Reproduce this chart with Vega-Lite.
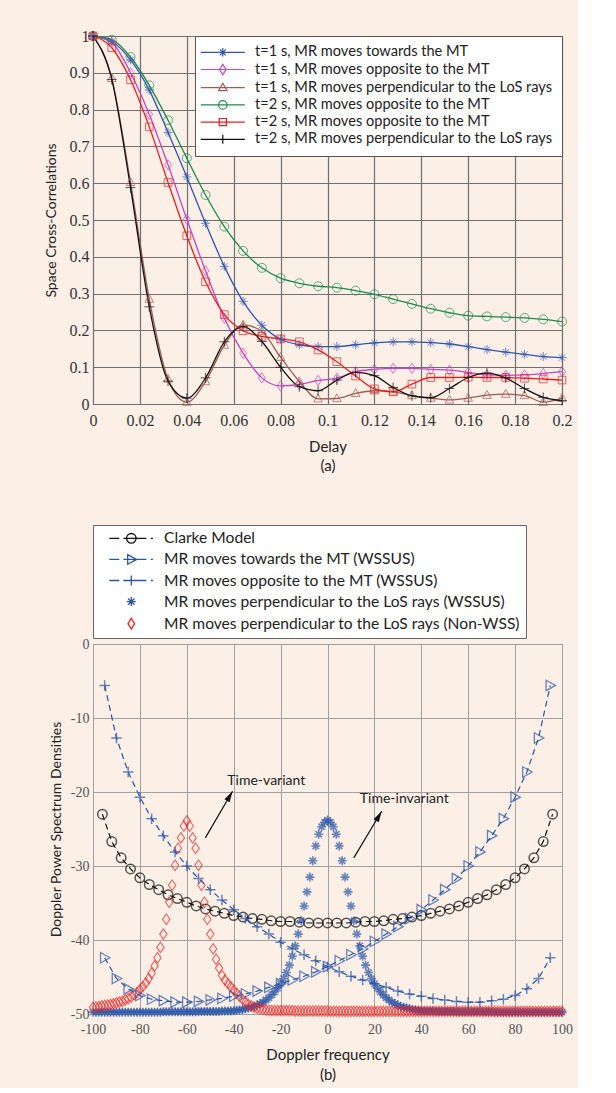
{
  "$schema": "https://vega.github.io/schema/vega-lite/v6.json",
  "background": "#fbefe6",
  "padding": {"left": 43, "top": 27, "right": 5, "bottom": 5},
  "config": {
    "font": "Lato",
    "view": {"stroke": "#444444", "strokeWidth": 1},
    "axis": {"grid": true, "ticks": false, "domain": false, "labelFont": "Liberation Serif", "titleFont": "Lato", "titleFontWeight": "normal", "titleColor": "#222222", "minExtent": 0, "labelFlush": false, "labelOverlap": false}
  },
  "datasets": {
    "top": [
      {"d":0,"A":1,"B":1,"C":1,"D":1,"E":1,"F":1},
      {"d":0.008,"A":0.985,"B":0.982,"C":0.885,"D":0.99,"E":0.968,"F":0.882},
      {"d":0.016,"A":0.935,"B":0.9,"C":0.602,"D":0.943,"E":0.881,"F":0.588},
      {"d":0.024,"A":0.853,"B":0.787,"C":0.285,"D":0.866,"E":0.753,"F":0.264},
      {"d":0.032,"A":0.738,"B":0.65,"C":0.068,"D":0.771,"E":0.602,"F":0.062},
      {"d":0.04,"A":0.617,"B":0.502,"C":0.005,"D":0.668,"E":0.457,"F":0.016},
      {"d":0.048,"A":0.491,"B":0.362,"C":0.061,"D":0.568,"E":0.332,"F":0.071},
      {"d":0.056,"A":0.374,"B":0.233,"C":0.16,"D":0.482,"E":0.243,"F":0.169},
      {"d":0.064,"A":0.279,"B":0.138,"C":0.215,"D":0.416,"E":0.199,"F":0.21},
      {"d":0.072,"A":0.214,"B":0.071,"C":0.197,"D":0.37,"E":0.184,"F":0.17},
      {"d":0.08,"A":0.176,"B":0.049,"C":0.127,"D":0.342,"E":0.177,"F":0.1},
      {"d":0.088,"A":0.161,"B":0.053,"C":0.061,"D":0.328,"E":0.169,"F":0.047},
      {"d":0.096,"A":0.156,"B":0.064,"C":0.014,"D":0.32,"E":0.147,"F":0.036},
      {"d":0.104,"A":0.156,"B":0.07,"C":0.015,"D":0.316,"E":0.115,"F":0.065},
      {"d":0.112,"A":0.161,"B":0.088,"C":0.029,"D":0.308,"E":0.076,"F":0.086},
      {"d":0.12,"A":0.166,"B":0.094,"C":0.036,"D":0.298,"E":0.041,"F":0.077},
      {"d":0.128,"A":0.169,"B":0.097,"C":0.033,"D":0.285,"E":0.033,"F":0.045},
      {"d":0.136,"A":0.169,"B":0.097,"C":0.023,"D":0.272,"E":0.054,"F":0.022},
      {"d":0.144,"A":0.167,"B":0.094,"C":0.016,"D":0.259,"E":0.072,"F":0.017},
      {"d":0.152,"A":0.163,"B":0.092,"C":0.011,"D":0.248,"E":0.072,"F":0.042},
      {"d":0.16,"A":0.156,"B":0.086,"C":0.016,"D":0.24,"E":0.073,"F":0.072},
      {"d":0.168,"A":0.148,"B":0.079,"C":0.024,"D":0.238,"E":0.072,"F":0.084},
      {"d":0.176,"A":0.141,"B":0.078,"C":0.027,"D":0.236,"E":0.072,"F":0.071},
      {"d":0.184,"A":0.135,"B":0.079,"C":0.023,"D":0.234,"E":0.07,"F":0.042},
      {"d":0.192,"A":0.129,"B":0.083,"C":0.005,"D":0.23,"E":0.068,"F":0.018},
      {"d":0.2,"A":0.126,"B":0.088,"C":0.016,"D":0.224,"E":0.065,"F":0.009}
    ],
    "clarke": [
      {"f":-96,"v":-23.0},{"f":-92,"v":-26.7},{"f":-88,"v":-28.9},{"f":-84,"v":-30.4},{"f":-80,"v":-31.6},
      {"f":-76,"v":-32.5},{"f":-72,"v":-33.2},{"f":-68,"v":-33.9},{"f":-64,"v":-34.4},{"f":-60,"v":-34.9},
      {"f":-56,"v":-35.4},{"f":-52,"v":-35.8},{"f":-48,"v":-36.1},{"f":-44,"v":-36.4},{"f":-40,"v":-36.7},
      {"f":-36,"v":-36.9},{"f":-32,"v":-37.1},{"f":-28,"v":-37.2},{"f":-24,"v":-37.4},{"f":-20,"v":-37.5},
      {"f":-16,"v":-37.5},{"f":-12,"v":-37.6},{"f":-8,"v":-37.7},{"f":-4,"v":-37.7},{"f":0,"v":-37.7},
      {"f":4,"v":-37.7},{"f":8,"v":-37.7},{"f":12,"v":-37.6},{"f":16,"v":-37.5},{"f":20,"v":-37.5},
      {"f":24,"v":-37.4},{"f":28,"v":-37.2},{"f":32,"v":-37.1},{"f":36,"v":-36.9},{"f":40,"v":-36.7},
      {"f":44,"v":-36.4},{"f":48,"v":-36.1},{"f":52,"v":-35.8},{"f":56,"v":-35.4},{"f":60,"v":-34.9},
      {"f":64,"v":-34.4},{"f":68,"v":-33.9},{"f":72,"v":-33.2},{"f":76,"v":-32.5},{"f":80,"v":-31.6},
      {"f":84,"v":-30.4},{"f":88,"v":-28.9},{"f":92,"v":-26.7},{"f":96,"v":-23.0}
    ],
    "towards": [
      {"f":-95,"v":-42.4},{"f":-90,"v":-45.2},{"f":-85,"v":-46.6},{"f":-80,"v":-47.5},{"f":-75,"v":-48.0},
      {"f":-70,"v":-48.2},{"f":-65,"v":-48.4},{"f":-60,"v":-48.4},{"f":-55,"v":-48.3},{"f":-50,"v":-48.1},
      {"f":-45,"v":-47.9},{"f":-40,"v":-47.6},{"f":-35,"v":-47.3},{"f":-30,"v":-46.9},{"f":-25,"v":-46.4},
      {"f":-20,"v":-45.9},{"f":-15,"v":-45.4},{"f":-10,"v":-44.9},{"f":-5,"v":-44.3},{"f":0,"v":-43.6},
      {"f":5,"v":-42.8},{"f":10,"v":-42.0},{"f":15,"v":-41.2},{"f":20,"v":-40.2},{"f":25,"v":-39.2},
      {"f":30,"v":-38.2},{"f":35,"v":-37.1},{"f":40,"v":-35.9},{"f":45,"v":-34.6},{"f":50,"v":-33.2},
      {"f":55,"v":-31.7},{"f":60,"v":-30.0},{"f":65,"v":-28.1},{"f":70,"v":-25.9},{"f":75,"v":-23.6},
      {"f":80,"v":-20.7},{"f":85,"v":-17.3},{"f":90,"v":-12.7},{"f":95,"v":-5.6}
    ],
    "opposite": [
      {"f":-95,"v":-5.6},{"f":-90,"v":-12.7},{"f":-85,"v":-17.3},{"f":-80,"v":-20.7},{"f":-75,"v":-23.6},
      {"f":-70,"v":-25.9},{"f":-65,"v":-28.1},{"f":-60,"v":-30.0},{"f":-55,"v":-31.7},{"f":-50,"v":-33.2},
      {"f":-45,"v":-34.6},{"f":-40,"v":-35.9},{"f":-35,"v":-37.1},{"f":-30,"v":-38.2},{"f":-25,"v":-39.2},
      {"f":-20,"v":-40.3},{"f":-15,"v":-41.2},{"f":-10,"v":-42.0},{"f":-5,"v":-42.8},{"f":0,"v":-43.6},
      {"f":5,"v":-44.3},{"f":10,"v":-44.9},{"f":15,"v":-45.4},{"f":20,"v":-45.9},{"f":25,"v":-46.4},
      {"f":30,"v":-46.9},{"f":35,"v":-47.3},{"f":40,"v":-47.6},{"f":45,"v":-47.9},{"f":50,"v":-48.1},
      {"f":55,"v":-48.3},{"f":60,"v":-48.4},{"f":65,"v":-48.4},{"f":70,"v":-48.2},{"f":75,"v":-48.0},
      {"f":80,"v":-47.5},{"f":85,"v":-46.6},{"f":90,"v":-45.2},{"f":95,"v":-42.4}
    ],
    "perp": [
      {"f":-100,"s":-49.75,"r":-49.1},{"f":-98.75,"s":-49.75,"r":-49.05},{"f":-97.5,"s":-49.75,"r":-49.0},{"f":-96.25,"s":-49.75,"r":-48.9},
      {"f":-95,"s":-49.75,"r":-48.85},{"f":-93.75,"s":-49.75,"r":-48.8},{"f":-92.5,"s":-49.75,"r":-48.7},{"f":-91.25,"s":-49.75,"r":-48.6},
      {"f":-90,"s":-49.75,"r":-48.5},{"f":-88.75,"s":-49.75,"r":-48.4},{"f":-87.5,"s":-49.75,"r":-48.3},{"f":-86.25,"s":-49.75,"r":-48.1},
      {"f":-85,"s":-49.75,"r":-47.9},{"f":-83.75,"s":-49.75,"r":-47.7},{"f":-82.5,"s":-49.75,"r":-47.4},{"f":-81.25,"s":-49.75,"r":-47.1},
      {"f":-80,"s":-49.75,"r":-46.7},{"f":-78.75,"s":-49.75,"r":-46.3},{"f":-77.5,"s":-49.75,"r":-45.8},{"f":-76.25,"s":-49.75,"r":-45.2},
      {"f":-75,"s":-49.75,"r":-44.5},{"f":-73.75,"s":-49.75,"r":-43.5},{"f":-72.5,"s":-49.75,"r":-42.4},{"f":-71.25,"s":-49.75,"r":-41.0},
      {"f":-70,"s":-49.7,"r":-39.2},{"f":-68.75,"s":-49.7,"r":-37.2},{"f":-67.5,"s":-49.7,"r":-34.9},{"f":-66.25,"s":-49.7,"r":-32.6},
      {"f":-65,"s":-49.7,"r":-29.9},{"f":-63.75,"s":-49.7,"r":-27.6},{"f":-62.5,"s":-49.7,"r":-26.2},{"f":-61.25,"s":-49.7,"r":-24.6},
      {"f":-60,"s":-49.7,"r":-23.9},{"f":-58.75,"s":-49.7,"r":-24.6},{"f":-57.5,"s":-49.7,"r":-26.2},{"f":-56.25,"s":-49.7,"r":-27.6},
      {"f":-55,"s":-49.65,"r":-29.9},{"f":-53.75,"s":-49.65,"r":-32.6},{"f":-52.5,"s":-49.65,"r":-34.9},{"f":-51.25,"s":-49.65,"r":-37.2},
      {"f":-50,"s":-49.65,"r":-39.2},{"f":-48.75,"s":-49.65,"r":-41.2},{"f":-47.5,"s":-49.65,"r":-42.6},{"f":-46.25,"s":-49.65,"r":-43.8},
      {"f":-45,"s":-49.6,"r":-44.8},{"f":-43.75,"s":-49.6,"r":-45.4},{"f":-42.5,"s":-49.6,"r":-45.9},{"f":-41.25,"s":-49.6,"r":-46.3},
      {"f":-40,"s":-49.55,"r":-46.8},{"f":-38.75,"s":-49.5,"r":-47.2},{"f":-37.5,"s":-49.45,"r":-47.6},{"f":-36.25,"s":-49.4,"r":-48.0},
      {"f":-35,"s":-49.3,"r":-48.4},{"f":-33.75,"s":-49.2,"r":-48.7},{"f":-32.5,"s":-49.1,"r":-48.9},{"f":-31.25,"s":-49.0,"r":-49.1},
      {"f":-30,"s":-48.8,"r":-49.2},{"f":-28.75,"s":-48.6,"r":-49.3},{"f":-27.5,"s":-48.4,"r":-49.4},{"f":-26.25,"s":-48.1,"r":-49.45},
      {"f":-25,"s":-47.8,"r":-49.5},{"f":-23.75,"s":-47.4,"r":-49.55},{"f":-22.5,"s":-47.0,"r":-49.55},{"f":-21.25,"s":-46.5,"r":-49.55},
      {"f":-20,"s":-45.9,"r":-49.55},{"f":-18.75,"s":-45.2,"r":-49.55},{"f":-17.5,"s":-44.4,"r":-49.55},{"f":-16.25,"s":-43.4,"r":-49.55},
      {"f":-15,"s":-42.2,"r":-49.55},{"f":-13.75,"s":-40.8,"r":-49.6},{"f":-12.5,"s":-39.2,"r":-49.6},{"f":-11.25,"s":-37.4,"r":-49.6},
      {"f":-10,"s":-35.4,"r":-49.6},{"f":-8.75,"s":-33.5,"r":-49.6},{"f":-7.5,"s":-31.5,"r":-49.6},{"f":-6.25,"s":-29.3,"r":-49.6},
      {"f":-5,"s":-27.3,"r":-49.6},{"f":-3.75,"s":-25.7,"r":-49.6},{"f":-2.5,"s":-24.7,"r":-49.6},{"f":-1.25,"s":-24.1,"r":-49.6},
      {"f":0,"s":-23.8,"r":-49.6},{"f":1.25,"s":-24.1,"r":-49.65},{"f":2.5,"s":-24.7,"r":-49.65},{"f":3.75,"s":-25.7,"r":-49.65},
      {"f":5,"s":-27.3,"r":-49.65},{"f":6.25,"s":-29.3,"r":-49.65},{"f":7.5,"s":-31.5,"r":-49.65},{"f":8.75,"s":-33.5,"r":-49.65},
      {"f":10,"s":-35.4,"r":-49.65},{"f":11.25,"s":-37.4,"r":-49.65},{"f":12.5,"s":-39.2,"r":-49.65},{"f":13.75,"s":-40.8,"r":-49.65},
      {"f":15,"s":-42.2,"r":-49.65},{"f":16.25,"s":-43.4,"r":-49.65},{"f":17.5,"s":-44.4,"r":-49.65},{"f":18.75,"s":-45.2,"r":-49.65},
      {"f":20,"s":-45.9,"r":-49.65},{"f":21.25,"s":-46.5,"r":-49.65},{"f":22.5,"s":-47.0,"r":-49.65},{"f":23.75,"s":-47.4,"r":-49.65},
      {"f":25,"s":-47.8,"r":-49.65},{"f":26.25,"s":-48.1,"r":-49.65},{"f":27.5,"s":-48.4,"r":-49.65},{"f":28.75,"s":-48.6,"r":-49.65},
      {"f":30,"s":-48.8,"r":-49.65},{"f":31.25,"s":-49.0,"r":-49.65},{"f":32.5,"s":-49.1,"r":-49.65},{"f":33.75,"s":-49.2,"r":-49.65},
      {"f":35,"s":-49.3,"r":-49.65},{"f":36.25,"s":-49.4,"r":-49.65},{"f":37.5,"s":-49.45,"r":-49.65},{"f":38.75,"s":-49.5,"r":-49.65},
      {"f":40,"s":-49.55,"r":-49.65},{"f":41.25,"s":-49.6,"r":-49.65},{"f":42.5,"s":-49.6,"r":-49.65},{"f":43.75,"s":-49.6,"r":-49.65},
      {"f":45,"s":-49.6,"r":-49.65},{"f":46.25,"s":-49.65,"r":-49.65},{"f":47.5,"s":-49.65,"r":-49.65},{"f":48.75,"s":-49.65,"r":-49.65},
      {"f":50,"s":-49.65,"r":-49.65},{"f":51.25,"s":-49.65,"r":-49.65},{"f":52.5,"s":-49.65,"r":-49.65},{"f":53.75,"s":-49.65,"r":-49.65},
      {"f":55,"s":-49.65,"r":-49.65},{"f":56.25,"s":-49.7,"r":-49.65},{"f":57.5,"s":-49.7,"r":-49.65},{"f":58.75,"s":-49.7,"r":-49.65},
      {"f":60,"s":-49.7,"r":-49.65},{"f":61.25,"s":-49.7,"r":-49.65},{"f":62.5,"s":-49.7,"r":-49.65},{"f":63.75,"s":-49.7,"r":-49.65},
      {"f":65,"s":-49.7,"r":-49.65},{"f":66.25,"s":-49.7,"r":-49.65},{"f":67.5,"s":-49.7,"r":-49.65},{"f":68.75,"s":-49.7,"r":-49.65},
      {"f":70,"s":-49.7,"r":-49.65},{"f":71.25,"s":-49.75,"r":-49.65},{"f":72.5,"s":-49.75,"r":-49.65},{"f":73.75,"s":-49.75,"r":-49.65},
      {"f":75,"s":-49.75,"r":-49.65},{"f":76.25,"s":-49.75,"r":-49.65},{"f":77.5,"s":-49.75,"r":-49.65},{"f":78.75,"s":-49.75,"r":-49.65},
      {"f":80,"s":-49.75,"r":-49.65},{"f":81.25,"s":-49.75,"r":-49.65},{"f":82.5,"s":-49.75,"r":-49.65},{"f":83.75,"s":-49.75,"r":-49.65},
      {"f":85,"s":-49.75,"r":-49.65},{"f":86.25,"s":-49.75,"r":-49.65},{"f":87.5,"s":-49.75,"r":-49.65},{"f":88.75,"s":-49.75,"r":-49.65},
      {"f":90,"s":-49.75,"r":-49.65},{"f":91.25,"s":-49.75,"r":-49.65},{"f":92.5,"s":-49.75,"r":-49.65},{"f":93.75,"s":-49.75,"r":-49.65},
      {"f":95,"s":-49.75,"r":-49.65},{"f":96.25,"s":-49.75,"r":-49.65},{"f":97.5,"s":-49.75,"r":-49.65},{"f":98.75,"s":-49.75,"r":-49.65},
      {"f":100,"s":-49.75,"r":-49.65}
    ],
    "notes": [
      {"label":"Time-variant","tx":-42.7,"ty":-18.5,"ax":-52.1,"ay":-26.2,"hx":-40.5,"hy":-19.9},
      {"label":"Time-invariant","tx":13.8,"ty":-21.0,"ax":11.2,"ay":-28.9,"hx":23.1,"hy":-22.6}
    ]
  },
  "spacing": 240,
  "bounds": "flush",
  "resolve": {"scale": {"color": "independent", "shape": "independent", "x": "independent", "y": "independent"}, "legend": {"color": "independent", "shape": "independent"}},
  "vconcat": [
    {
      "width": 469,
      "height": 368,
      "data": {"name": "top"},
      "transform": [{"fold": ["A","B","C","D","E","F"], "as": ["s","v"]}],
      "encoding": {
        "x": {"field": "d", "type": "quantitative", "scale": {"domain": [0, 0.2], "nice": false},
          "axis": {"values": [0,0.02,0.04,0.06,0.08,0.1,0.12,0.14,0.16,0.18,0.2], "format": ".2~f", "labelFontSize": 16, "labelColor": "#333333", "labelPadding": 8, "title": ["Delay", "(a)"], "titleFontSize": 15, "titlePadding": 11, "titleLineHeight": 19, "gridColor": "#707070", "gridWidth": 1.2}},
        "y": {"field": "v", "type": "quantitative", "scale": {"domain": [0, 1], "nice": false},
          "axis": {"values": [0,0.1,0.2,0.3,0.4,0.5,0.6,0.7,0.8,0.9,1], "format": ".1~f", "labelFontSize": 16, "labelColor": "#333333", "labelPadding": 4, "title": "Space Cross-Correlations", "titleFontSize": 14, "titlePadding": 11, "gridColor": "#707070", "gridWidth": 1.2}}
      },
      "layer": [
        {
          "mark": {"type": "line", "interpolate": "monotone", "strokeWidth": 1.3},
          "encoding": {
            "color": {"field": "s", "type": "nominal",
              "scale": {"domain": ["A","B","C","D","E","F"], "range": ["#2f55b4","#c444c4","#9e5b57","#1b8a4e","#f01c1c","#111111"]},
              "legend": {"orient": "top-right", "offset": 0, "title": null, "fillColor": "white", "strokeColor": "#555555", "padding": 9, "rowPadding": 2.2, "labelFont": "Lato", "labelFontSize": 14.6, "labelColor": "#222222", "labelLimit": 600, "symbolSize": 144, "symbolOffset": 11.5, "labelOffset": 25, "symbolStrokeWidth": 1.2,
                "labelExpr": "{'A':'t=1 s, MR moves towards the MT','B':'t=1 s, MR moves opposite to the MT','C':'t=1 s, MR moves perpendicular to the LoS rays','D':'t=2 s, MR moves opposite to the MT','E':'t=2 s, MR moves opposite to the MT','F':'t=2 s, MR moves perpendicular to the LoS rays'}[datum.value]",
                "encode": {"symbols": {"update": {"shape": {"signal": "{'A':'M-3.67,0H3.67M0,-0.7V0.7M-0.5,-0.5L0.5,0.5M-0.5,0.5L0.5,-0.5','B':'M-3.67,0H3.67M0,-0.85L0.55,0L0,0.85L-0.55,0Z','C':'M-3.67,0H3.67M0,-0.75L0.7,0.5L-0.7,0.5Z','D':'M-3.67,0H3.67M0.7,0A0.7,0.7,0,1,1,-0.7,0A0.7,0.7,0,1,1,0.7,0Z','E':'M-3.67,0H3.67M-0.6,-0.6H0.6V0.6H-0.6Z','F':'M-3.67,0H3.67M0,-0.75V0.75'}[datum.value]"}, "fill": {"value": "transparent"}}}}}
            }
          }
        },
        {
          "mark": {"type": "point", "filled": false, "size": 81, "strokeWidth": 1},
          "encoding": {
            "color": {"field": "s", "type": "nominal"},
            "shape": {"field": "s", "type": "nominal", "legend": null,
              "scale": {"domain": ["F","E","D","C","B","A"], "range": ["M-1.1,0H1.1M0,-1.1V1.1", "M-0.85,-0.85H0.85V0.85H-0.85Z", "M1,0A1,1,0,1,1,-1,0A1,1,0,1,1,1,0Z", "M0,-1.05L0.95,0.7L-0.95,0.7Z", "M0,-1.15L0.75,0L0,1.15L-0.75,0Z", "M-1,0H1M0,-1V1M-0.7,-0.7L0.7,0.7M-0.7,0.7L0.7,-0.7"]}}
          }
        }
      ]
    },
    {
      "width": 469,
      "height": 370,
      "encoding": {
        "x": {"field": "f", "type": "quantitative", "scale": {"domain": [-100, 100], "nice": false},
          "axis": {"values": [-100,-80,-60,-40,-20,0,20,40,60,80,100], "labelExpr": "'' + datum.value", "labelFontSize": 14, "labelColor": "#555555", "labelPadding": 8, "title": ["Doppler frequency", "(b)"], "titleFontSize": 15, "titlePadding": 11, "titleLineHeight": 20, "gridColor": "#a0a0a0", "gridWidth": 1}},
        "y": {"type": "quantitative", "scale": {"domain": [-50, 0], "nice": false},
          "axis": {"values": [0,-10,-20,-30,-40,-50], "labelExpr": "'' + datum.value", "labelFontSize": 14, "labelColor": "#555555", "labelPadding": 4, "title": "Doppler Power Spectrum Densities", "titleFontSize": 14, "titlePadding": 7, "gridColor": "#a0a0a0", "gridWidth": 1}}
      },
      "layer": [
        {
          "data": {"name": "clarke"},
          "mark": {"type": "line", "strokeDash": [6, 4], "strokeWidth": 1.2},
          "encoding": {
            "y": {"field": "v", "type": "quantitative"},
            "color": {"datum": "Clarke Model", "type": "nominal",
              "scale": {"domain": ["Clarke Model", "MR moves towards the MT (WSSUS)", "MR moves opposite to the MT (WSSUS)", "MR moves perpendicular to the LoS rays (WSSUS)", "MR moves perpendicular to the LoS rays (Non-WSS)"], "range": ["#111111", "#2a55a8", "#2a55a8", "#2a55a8", "#ee2222"]},
              "legend": {"orient": "top", "direction": "vertical", "offset": 6, "title": null, "fillColor": "white", "strokeColor": "#666666", "padding": 5.5, "rowPadding": 4.1, "labelFont": "Lato", "labelFontSize": 15.6, "labelColor": "#222222", "labelLimit": 700, "symbolSize": 144, "symbolOffset": 25, "labelOffset": 25, "symbolStrokeWidth": 1.3,
                "encode": {"symbols": {"update": {"shape": {"signal": "['M-3.67,0H-2M-1.33,0H2.5M3.25,0H3.6M0.8,0A0.8,0.8,0,1,1,-0.8,0A0.8,0.8,0,1,1,0.8,0Z','M-3.67,0H-2M-1.33,0H2.5M3.25,0H3.6M-0.6,-0.8L0.9,0L-0.6,0.8Z','M-3.67,0H-2M-1.33,0H2.5M3.25,0H3.6M0,-0.85V0.85','M-0.75,0H0.75M0,-0.75V0.75M-0.53,-0.53L0.53,0.53M-0.53,0.53L0.53,-0.53','M0,-0.9L0.55,0L0,0.9L-0.55,0Z'][datum.index]"}, "fill": {"value": "transparent"}}}}}
            }
          }
        },
        {
          "data": {"name": "clarke"},
          "mark": {"type": "point", "filled": false, "shape": "M1,0A1,1,0,1,1,-1,0A1,1,0,1,1,1,0Z", "size": 90, "strokeWidth": 1.5},
          "encoding": {"y": {"field": "v", "type": "quantitative"}, "color": {"datum": "Clarke Model", "type": "nominal"}}
        },
        {
          "data": {"name": "perp"},
          "mark": {"type": "point", "filled": false, "shape": "M-1,0H1M0,-1V1M-0.7,-0.7L0.7,0.7M-0.7,0.7L0.7,-0.7", "size": 81, "strokeWidth": 1.6},
          "encoding": {"y": {"field": "s", "type": "quantitative"}, "color": {"datum": "MR moves perpendicular to the LoS rays (WSSUS)", "type": "nominal"}}
        },
        {
          "data": {"name": "perp"},
          "mark": {"type": "point", "filled": false, "shape": "M0,-1L0.7,0L0,1L-0.7,0Z", "size": 110, "strokeWidth": 1.1},
          "encoding": {"y": {"field": "r", "type": "quantitative"}, "color": {"datum": "MR moves perpendicular to the LoS rays (Non-WSS)", "type": "nominal"}}
        },
        {
          "data": {"name": "towards"},
          "mark": {"type": "line", "strokeDash": [6, 4], "strokeWidth": 1.2},
          "encoding": {"y": {"field": "v", "type": "quantitative"}, "color": {"datum": "MR moves towards the MT (WSSUS)", "type": "nominal"}}
        },
        {
          "data": {"name": "towards"},
          "mark": {"type": "point", "filled": false, "shape": "M-0.8,-1L1,0L-0.8,1Z", "size": 110, "strokeWidth": 1.3},
          "encoding": {"y": {"field": "v", "type": "quantitative"}, "color": {"datum": "MR moves towards the MT (WSSUS)", "type": "nominal"}}
        },
        {
          "data": {"name": "opposite"},
          "mark": {"type": "line", "strokeDash": [6, 4], "strokeWidth": 1.2},
          "encoding": {"y": {"field": "v", "type": "quantitative"}, "color": {"datum": "MR moves opposite to the MT (WSSUS)", "type": "nominal"}}
        },
        {
          "data": {"name": "opposite"},
          "mark": {"type": "point", "filled": false, "shape": "M-1,0H1M0,-1V1", "size": 110, "strokeWidth": 1.5},
          "encoding": {"y": {"field": "v", "type": "quantitative"}, "color": {"datum": "MR moves opposite to the MT (WSSUS)", "type": "nominal"}}
        },
        {
          "data": {"name": "notes"},
          "mark": {"type": "rule", "color": "#111111", "strokeWidth": 1.2},
          "encoding": {"x": {"field": "ax", "type": "quantitative"}, "y": {"field": "ay", "type": "quantitative"}, "x2": {"field": "hx"}, "y2": {"field": "hy"}}
        },
        {
          "data": {"name": "notes"},
          "mark": {"type": "point", "filled": true, "color": "#111111", "shape": "M0,0L0.6,2.2L-0.6,2.2Z", "size": 100, "angle": 30, "opacity": 1},
          "encoding": {"x": {"field": "hx", "type": "quantitative"}, "y": {"field": "hy", "type": "quantitative"}}
        },
        {
          "data": {"name": "notes"},
          "mark": {"type": "text", "align": "left", "baseline": "middle", "font": "Lato", "fontSize": 14, "color": "#222222"},
          "encoding": {"x": {"field": "tx", "type": "quantitative"}, "y": {"field": "ty", "type": "quantitative"}, "text": {"field": "label"}}
        }
      ]
    }
  ]
}
